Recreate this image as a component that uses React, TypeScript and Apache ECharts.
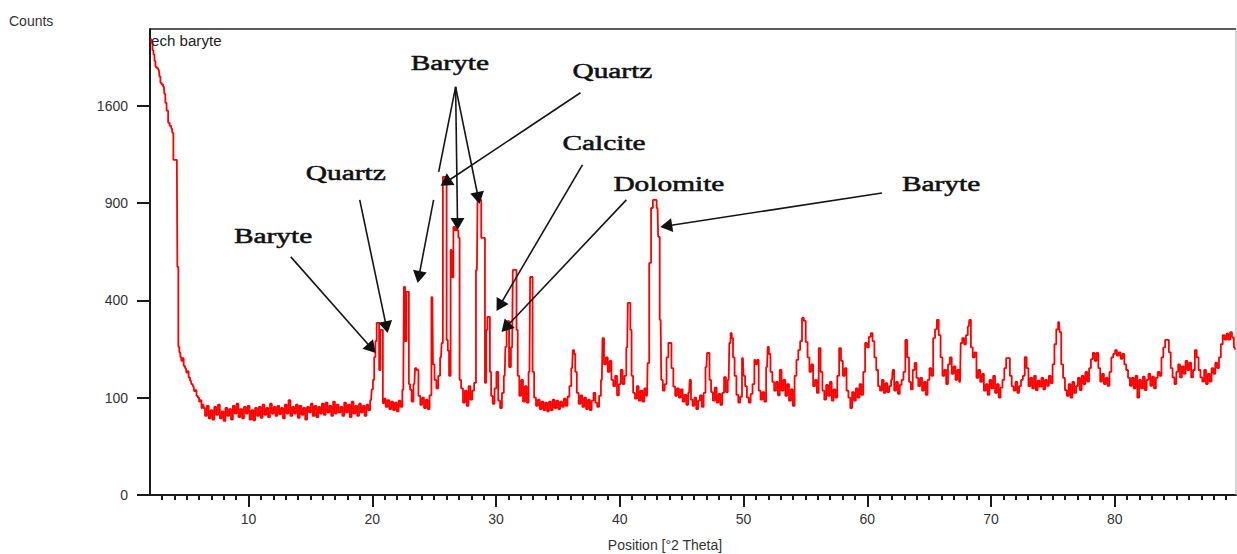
import React, { useEffect, useRef } from "react";
import * as echarts from "echarts";

// ---- axes ----
const xMin = 2.03;
const xMax = 89.8;
const xMajorTicks = [10, 20, 30, 40, 50, 60, 70, 80];
const xMinorTicks = [3, 4, 5, 6, 7, 8, 9, 11, 12, 13, 14, 15, 16, 17, 18, 19, 21, 22, 23, 24, 25, 26, 27, 28, 29, 31, 32, 33, 34, 35, 36, 37, 38, 39, 41, 42, 43, 44, 45, 46, 47, 48, 49, 51, 52, 53, 54, 55, 56, 57, 58, 59, 61, 62, 63, 64, 65, 66, 67, 68, 69, 71, 72, 73, 74, 75, 76, 77, 78, 79, 81, 82, 83, 84, 85, 86, 87, 88, 89];
const yTickCounts = [0, 100, 400, 900, 1600];
const yMaxCounts = 2294;
const xAxisTitle = "Position [°2 Theta]";
const yAxisTitle = "Counts";
const sampleName = "ech baryte";

// ---- scan data: [2θ, counts] ----
const declineScan: [number, number][] = [
  [2.11, 2200], [2.19, 2160], [2.27, 2090], [2.35, 2050], [2.43, 1990], [2.51, 1937], [2.63, 1925], [2.75, 1910],
  [2.83, 1850], [2.91, 1795], [3.03, 1780], [3.15, 1762], [3.23, 1700], [3.31, 1625], [3.43, 1560], [3.56, 1463],
  [3.68, 1440], [3.8, 1420], [3.88, 1386], [3.96, 1187], [4.08, 1187], [4.2, 1187], [4.28, 550], [4.36, 232],
  [4.44, 215], [4.52, 201], [4.6, 190], [4.7, 198], [4.8, 176], [4.93, 170], [5.02, 158], [5.1, 162], [5.2, 146],
  [5.33, 138], [5.42, 130], [5.55, 125], [5.64, 114], [5.73, 116], [5.84, 104], [5.95, 100], [6.05, 92], [6.13, 95],
  [6.25, 80], [6.32, 86],
];

const baselineScan: [number, number][] = [
  [6.4, 80], [6.55, 66], [6.7, 84], [6.85, 62], [7.0, 76], [7.15, 60], [7.3, 82], [7.45, 68], [7.6, 86], [7.75, 62],
  [7.9, 74], [8.05, 58], [8.2, 80], [8.35, 66], [8.5, 78], [8.65, 60], [8.8, 84], [8.95, 70], [9.1, 88], [9.25, 64],
  [9.4, 78], [9.55, 62], [9.7, 82], [9.85, 70], [10.0, 84], [10.15, 60], [10.3, 76], [10.45, 59], [10.6, 80],
  [10.75, 66], [10.9, 82], [11.05, 63], [11.2, 86], [11.35, 68], [11.5, 80], [11.65, 64], [11.8, 88], [11.95, 70],
  [12.1, 82], [12.25, 66], [12.4, 84], [12.55, 69], [12.7, 80], [12.85, 62], [13.0, 86], [13.15, 70], [13.3, 95],
  [13.45, 66], [13.6, 82], [13.75, 70], [13.9, 86], [14.05, 63], [14.2, 84], [14.35, 68], [14.5, 80], [14.65, 60],
  [14.8, 82], [14.95, 72], [15.1, 88], [15.25, 66], [15.4, 84], [15.55, 64], [15.7, 82], [15.85, 70], [16.0, 88],
  [16.15, 68], [16.3, 90], [16.45, 72], [16.6, 84], [16.75, 66], [16.9, 92], [17.05, 70], [17.2, 86], [17.35, 72],
  [17.5, 82], [17.65, 66], [17.8, 90], [17.95, 72], [18.1, 86], [18.25, 64], [18.4, 92], [18.55, 70], [18.7, 84],
  [18.85, 66], [19.0, 88], [19.15, 72], [19.3, 84], [19.45, 66], [19.6, 86], [19.75, 76],
];

const mainPeaksScan: [number, number][] = [
  [19.9, 95], [20.0, 118], [20.1, 140], [20.2, 201], [20.3, 250], [20.4, 313], [20.5, 313], [20.6, 165],
  [20.7, 288], [20.8, 288], [20.9, 89], [21.0, 98], [21.15, 82], [21.3, 95], [21.45, 78], [21.6, 92], [21.75, 76],
  [21.9, 90], [22.05, 74], [22.2, 94], [22.35, 82], [22.5, 117], [22.6, 457], [22.7, 250], [22.8, 436], [22.9, 436],
  [23.0, 130], [23.1, 117], [23.25, 92], [23.4, 130], [23.5, 170], [23.65, 165], [23.8, 104], [23.95, 86],
  [24.1, 100], [24.25, 80], [24.4, 96], [24.55, 78], [24.7, 105], [24.85, 414], [24.95, 180], [25.1, 140],
  [25.25, 120], [25.4, 150], [25.55, 200], [25.65, 244], [25.75, 1069], [25.85, 1069], [25.95, 1069], [26.05, 254],
  [26.15, 220], [26.25, 150], [26.4, 635], [26.5, 500], [26.6, 759], [26.7, 740], [26.8, 759], [26.9, 740],
  [27.0, 700], [27.1, 140], [27.25, 120], [27.4, 90], [27.55, 115], [27.7, 84], [27.85, 125], [28.0, 96],
  [28.15, 115], [28.3, 133], [28.45, 535], [28.55, 920], [28.65, 920], [28.75, 920], [28.85, 698], [28.95, 698],
  [29.05, 698], [29.15, 133], [29.25, 288], [29.35, 335], [29.45, 335], [29.55, 160], [29.65, 104], [29.8, 88],
  [29.95, 120], [30.1, 160], [30.25, 94], [30.4, 80], [30.55, 110], [30.7, 150], [30.8, 232], [30.9, 300],
  [31.0, 320], [31.1, 173], [31.3, 230], [31.4, 535], [31.5, 535], [31.6, 535], [31.7, 288], [31.8, 150],
  [31.95, 104], [32.1, 140], [32.25, 92], [32.4, 125], [32.55, 90], [32.7, 160], [32.8, 502], [32.9, 502],
  [33.0, 160], [33.15, 100], [33.3, 84], [33.45, 96], [33.6, 78], [33.75, 92], [33.9, 76], [34.05, 90], [34.2, 74],
];

const midScan: [number, number][] = [
  [34.35, 92], [34.5, 76], [34.65, 96], [34.8, 80], [34.95, 94], [35.1, 78], [35.25, 92], [35.4, 82], [35.55, 98],
  [35.7, 84], [35.85, 102], [36.0, 125], [36.15, 170], [36.25, 222], [36.35, 210], [36.45, 160], [36.6, 110],
  [36.75, 88], [36.9, 105], [37.05, 82], [37.2, 100], [37.35, 78], [37.5, 96], [37.65, 76], [37.8, 94],
  [37.95, 110], [38.1, 90], [38.25, 82], [38.4, 104], [38.55, 140], [38.65, 260], [38.8, 180], [38.95, 200],
  [39.1, 160], [39.25, 190], [39.4, 140], [39.55, 125], [39.7, 150], [39.85, 105], [40.0, 130], [40.15, 165],
  [40.3, 130], [40.45, 150], [40.6, 230], [40.7, 390], [40.8, 390], [40.9, 288], [41.0, 150], [41.15, 110],
  [41.3, 98], [41.45, 125], [41.6, 94], [41.75, 115], [41.9, 92], [42.05, 120], [42.2, 104], [42.3, 184],
  [42.45, 569], [42.6, 870], [42.75, 920], [42.9, 920], [43.05, 870], [43.15, 704], [43.3, 324], [43.4, 140],
  [43.55, 115], [43.7, 130], [43.85, 200], [44.0, 244], [44.1, 244], [44.25, 170], [44.4, 124], [44.55, 104],
  [44.7, 120],
];

const highScan: [number, number][] = [
  [44.85, 100], [45.0, 118], [45.15, 92], [45.3, 106], [45.45, 86], [45.6, 110], [45.7, 140], [45.8, 96],
  [45.95, 84], [46.1, 100], [46.25, 78], [46.4, 94], [46.55, 105], [46.7, 82], [46.85, 110], [47.0, 173],
  [47.1, 213], [47.2, 213], [47.3, 140], [47.45, 112], [47.6, 94], [47.75, 122], [47.9, 90], [48.05, 108],
  [48.2, 86], [48.35, 110], [48.5, 147], [48.65, 112], [48.8, 140], [48.9, 244], [49.0, 277], [49.1, 260],
  [49.2, 200], [49.35, 150], [49.5, 106], [49.65, 90], [49.8, 102], [49.95, 198], [50.05, 150], [50.2, 125],
  [50.35, 100], [50.5, 90], [50.65, 108], [50.8, 130], [50.95, 193], [51.05, 180], [51.15, 193], [51.3, 115],
  [51.45, 96], [51.6, 112], [51.75, 92], [51.9, 173], [52.0, 232], [52.1, 210], [52.25, 160], [52.4, 135],
  [52.55, 115], [52.7, 135], [52.85, 105], [53.0, 165], [53.15, 115], [53.3, 140], [53.45, 104], [53.6, 130],
  [53.75, 94], [53.9, 118], [54.05, 84], [54.2, 150], [54.35, 193], [54.5, 222], [54.65, 250], [54.8, 331],
  [54.95, 320], [55.1, 247], [55.25, 200], [55.4, 160], [55.55, 180], [55.7, 125], [55.85, 140], [56.0, 110],
  [56.15, 228], [56.3, 160], [56.45, 115], [56.6, 96], [56.75, 128], [56.9, 104], [57.05, 135], [57.2, 94],
  [57.35, 118], [57.5, 100], [57.65, 150], [57.8, 228], [57.95, 190], [58.1, 150], [58.25, 170], [58.4, 115],
  [58.55, 100], [58.7, 80], [58.85, 112], [59.0, 94], [59.15, 120], [59.3, 100], [59.45, 130], [59.6, 106],
  [59.75, 160], [59.9, 244], [60.05, 230], [60.2, 264], [60.35, 277], [60.5, 250], [60.65, 200], [60.8, 165],
  [60.95, 125], [61.1, 115], [61.25, 140], [61.4, 110], [61.55, 132], [61.7, 112], [61.85, 125], [62.0, 140],
  [62.1, 165], [62.25, 115], [62.4, 135], [62.55, 108], [62.7, 128], [62.85, 140], [63.0, 160], [63.15, 254],
  [63.3, 200], [63.45, 135], [63.6, 118], [63.75, 165], [63.9, 184], [64.05, 145], [64.2, 125], [64.35, 145],
  [64.5, 115], [64.65, 135], [64.8, 106], [64.95, 140], [65.1, 170], [65.25, 150], [65.4, 260], [65.55, 290],
  [65.7, 324], [65.85, 270], [66.0, 200], [66.15, 150], [66.3, 165], [66.45, 130], [66.6, 180], [66.75, 200],
  [66.9, 155], [67.05, 175], [67.2, 140], [67.35, 165], [67.5, 135], [67.6, 244], [67.75, 260], [67.9, 240],
  [68.05, 270], [68.2, 300], [68.3, 324], [68.45, 230], [68.6, 200], [68.75, 215], [68.9, 145], [69.05, 165],
  [69.2, 135], [69.35, 155], [69.5, 115], [69.65, 130], [69.8, 106], [69.95, 140], [70.1, 120], [70.25, 150],
  [70.4, 110], [70.55, 130], [70.7, 100], [70.85, 122], [71.0, 140], [71.15, 170], [71.3, 198], [71.45, 198],
  [71.6, 150], [71.75, 125], [71.9, 115], [72.05, 135], [72.2, 110], [72.35, 125], [72.5, 140], [72.65, 150],
  [72.8, 201], [72.95, 170], [73.1, 125], [73.25, 145], [73.4, 120], [73.55, 150], [73.7, 116], [73.85, 138],
  [74.0, 124], [74.15, 145], [74.3, 118], [74.45, 140], [74.6, 126], [74.75, 150], [74.9, 132], [75.05, 180],
  [75.2, 240], [75.35, 290], [75.5, 316], [75.6, 280], [75.75, 180], [75.9, 145], [76.05, 116], [76.2, 104],
  [76.35, 130], [76.5, 100], [76.65, 135], [76.8, 110], [76.95, 125], [77.1, 145], [77.25, 116], [77.4, 150],
  [77.55, 130], [77.7, 160], [77.85, 136], [78.0, 170], [78.15, 195], [78.3, 213], [78.45, 190], [78.6, 213],
  [78.75, 170], [78.9, 136], [79.05, 155], [79.2, 130], [79.35, 145], [79.5, 126], [79.65, 160], [79.8, 200],
  [79.95, 210], [80.1, 222], [80.25, 205], [80.4, 215], [80.55, 196], [80.7, 210], [80.85, 180], [81.0, 165],
  [81.15, 145], [81.3, 126], [81.45, 145], [81.6, 120], [81.75, 150], [81.9, 100], [82.05, 140], [82.2, 120],
  [82.35, 148], [82.5, 116], [82.65, 140], [82.8, 155], [82.95, 126], [83.1, 148], [83.25, 120], [83.4, 145],
  [83.55, 160], [83.7, 150], [83.85, 200], [84.0, 230], [84.15, 254], [84.3, 254], [84.45, 215], [84.6, 170],
  [84.75, 146], [84.9, 130], [85.05, 160], [85.2, 180], [85.35, 146], [85.5, 175], [85.65, 155], [85.8, 190],
  [85.95, 165], [86.1, 185], [86.25, 146], [86.4, 165], [86.55, 222], [86.7, 200], [86.85, 165], [87.0, 146],
  [87.15, 136], [87.3, 165], [87.45, 130], [87.6, 155], [87.75, 136], [87.9, 170], [88.05, 155], [88.2, 185],
  [88.35, 170], [88.5, 200], [88.65, 240], [88.8, 270], [88.95, 255], [89.1, 275], [89.25, 255], [89.4, 280],
  [89.55, 262], [89.7, 230], [89.8, 222],
];

// ---- phase annotations (label left edge / vertical centre, in [2θ, counts]) ----
const phaseLabels: { text: string; at: [number, number] }[] = [
  { text: "Baryte", at: [8.81, 709] },
  { text: "Quartz", at: [14.62, 1096] },
  { text: "Baryte", at: [23.1, 1973] },
  { text: "Quartz", at: [36.17, 1901] },
  { text: "Calcite", at: [35.36, 1310] },
  { text: "Dolomite", at: [39.48, 1023] },
  { text: "Baryte", at: [62.8, 1023] },
];

const phaseArrows: { from: [number, number]; to: [number, number]; head: boolean }[] = [
  { from: [13.41, 599], to: [20.27, 213], head: true },
  { from: [18.98, 920], to: [21.24, 277], head: true },
  { from: [26.73, 1760], to: [25.36, 1103], head: false },
  { from: [24.95, 920], to: [23.66, 475], head: true },
  { from: [26.73, 1760], to: [26.89, 742], head: true },
  { from: [26.73, 1760], to: [28.66, 895], head: true },
  { from: [36.82, 1709], to: [25.52, 1010], head: true },
  { from: [36.98, 1151], to: [30.04, 358], head: true },
  { from: [40.53, 920], to: [30.44, 281], head: true },
  { from: [61.19, 964], to: [43.27, 759], head: true },
];

const SANS = '"Liberation Sans", Arial, sans-serif';
const SERIF = '"Liberation Serif", "Times New Roman", serif';

export default function App() {
  const ref = useRef<HTMLDivElement>(null);

  useEffect(() => {
    if (!ref.current) return;
    const chart = echarts.init(ref.current, null, { renderer: "svg" });
    const sq = (c: number) => Math.sqrt(c);
    const scan = [...declineScan, ...baselineScan, ...mainPeaksScan, ...midScan, ...highScan].map(
      ([a, c]) => [a, sq(c)]
    );
    const yTicks = yTickCounts.map(sq);

    chart.setOption({
      animation: false,
      grid: { left: 150, right: 1, top: 29, bottom: 59, containLabel: false },
      xAxis: [
        {
          type: "value",
          min: xMin,
          max: xMax,
          position: "bottom",
          axisLine: { show: true, onZero: false, lineStyle: { color: "#1a1a1a", width: 2 } },
          axisTick: { show: true, customValues: xMajorTicks, length: 12, lineStyle: { color: "#1a1a1a", width: 2 } },
          axisLabel: { customValues: xMajorTicks, margin: 17, fontSize: 14, fontFamily: SANS, color: "#333" },
          splitLine: { show: false },
        },
        {
          type: "value",
          min: xMin,
          max: xMax,
          position: "bottom",
          axisLine: { show: false, onZero: false },
          axisTick: { show: true, customValues: xMinorTicks, length: 5, lineStyle: { color: "#1a1a1a", width: 2 } },
          axisLabel: { show: false },
          splitLine: { show: false },
        },
      ],
      yAxis: {
        type: "value",
        min: 0,
        max: sq(yMaxCounts),
        axisLine: { show: true, onZero: false, lineStyle: { color: "#1a1a1a", width: 2 } },
        axisTick: { show: true, customValues: yTicks, length: 13, lineStyle: { color: "#1a1a1a", width: 2 } },
        axisLabel: {
          customValues: yTicks,
          margin: 22,
          fontSize: 14,
          fontFamily: SANS,
          color: "#333",
          formatter: (v: number) => String(Math.round(v * v)),
        },
        splitLine: { show: false },
      },
      series: [
        {
          type: "line",
          xAxisIndex: 0,
          yAxisIndex: 0,
          data: scan,
          step: "middle",
          symbol: "none",
          showSymbol: false,
          silent: true,
          lineStyle: { color: "#ff0000", width: 1.8 },
        },
      ],
    });

    const px = (p: [number, number]) =>
      chart.convertToPixel({ xAxisIndex: 0, yAxisIndex: 0 }, [p[0], sq(p[1])]) as number[];

    const tl = px([xMin, yMaxCounts]);
    const br = px([xMax, 0]);
    const graphics: any[] = [
      { type: "line", shape: { x1: tl[0], y1: tl[1], x2: br[0], y2: tl[1] }, style: { stroke: "#222", lineWidth: 1.5 }, z: 10 },
      { type: "line", shape: { x1: br[0], y1: tl[1], x2: br[0], y2: br[1] }, style: { stroke: "#aaa", lineWidth: 1 }, z: 10 },
      { type: "text", x: 9, y: 21, style: { text: yAxisTitle, font: `14px ${SANS}`, fill: "#333", textAlign: "left", textVerticalAlign: "middle" }, z: 10 },
      { type: "text", x: tl[0] + 1, y: 41, scaleX: 1.08, style: { text: sampleName, font: `14px ${SANS}`, fill: "#222", textAlign: "left", textVerticalAlign: "middle" }, z: 10 },
      { type: "text", x: (tl[0] + br[0]) / 2 - 28, y: 545, style: { text: xAxisTitle, font: `14px ${SANS}`, fill: "#333", textAlign: "center", textVerticalAlign: "middle" }, z: 10 },
    ];

    phaseLabels.forEach((l) => {
      const p = px(l.at);
      graphics.push({
        type: "text",
        x: p[0],
        y: p[1],
        scaleX: 1.47,
        style: {
          text: l.text,
          font: `20px ${SERIF}`,
          fill: "#111",
          stroke: "#111",
          lineWidth: 0.5,
          textAlign: "left",
          textVerticalAlign: "middle",
        },
        z: 12,
      });
    });

    const headLen = 12;
    const headHalf = 7;
    phaseArrows.forEach((a) => {
      const p1 = px(a.from);
      const p2 = px(a.to);
      const dx = p2[0] - p1[0];
      const dy = p2[1] - p1[1];
      const L = Math.hypot(dx, dy);
      const ux = dx / L;
      const uy = dy / L;
      const end = a.head ? [p2[0] - ux * headLen * 0.8, p2[1] - uy * headLen * 0.8] : p2;
      graphics.push({
        type: "line",
        shape: { x1: p1[0], y1: p1[1], x2: end[0], y2: end[1] },
        style: { stroke: "#151515", lineWidth: 1.6 },
        z: 11,
      });
      if (a.head) {
        const bx = p2[0] - ux * headLen;
        const by = p2[1] - uy * headLen;
        graphics.push({
          type: "polygon",
          shape: {
            points: [
              [p2[0], p2[1]],
              [bx - uy * headHalf, by + ux * headHalf],
              [bx + uy * headHalf, by - ux * headHalf],
            ],
          },
          style: { fill: "#111" },
          z: 11,
        });
      }
    });

    chart.setOption({ graphic: graphics });

    return () => chart.dispose();
  }, []);

  return <div ref={ref} style={{ position: "fixed", left: 0, top: 0, width: 1237, height: 554, background: "#fff" }} />;
}
